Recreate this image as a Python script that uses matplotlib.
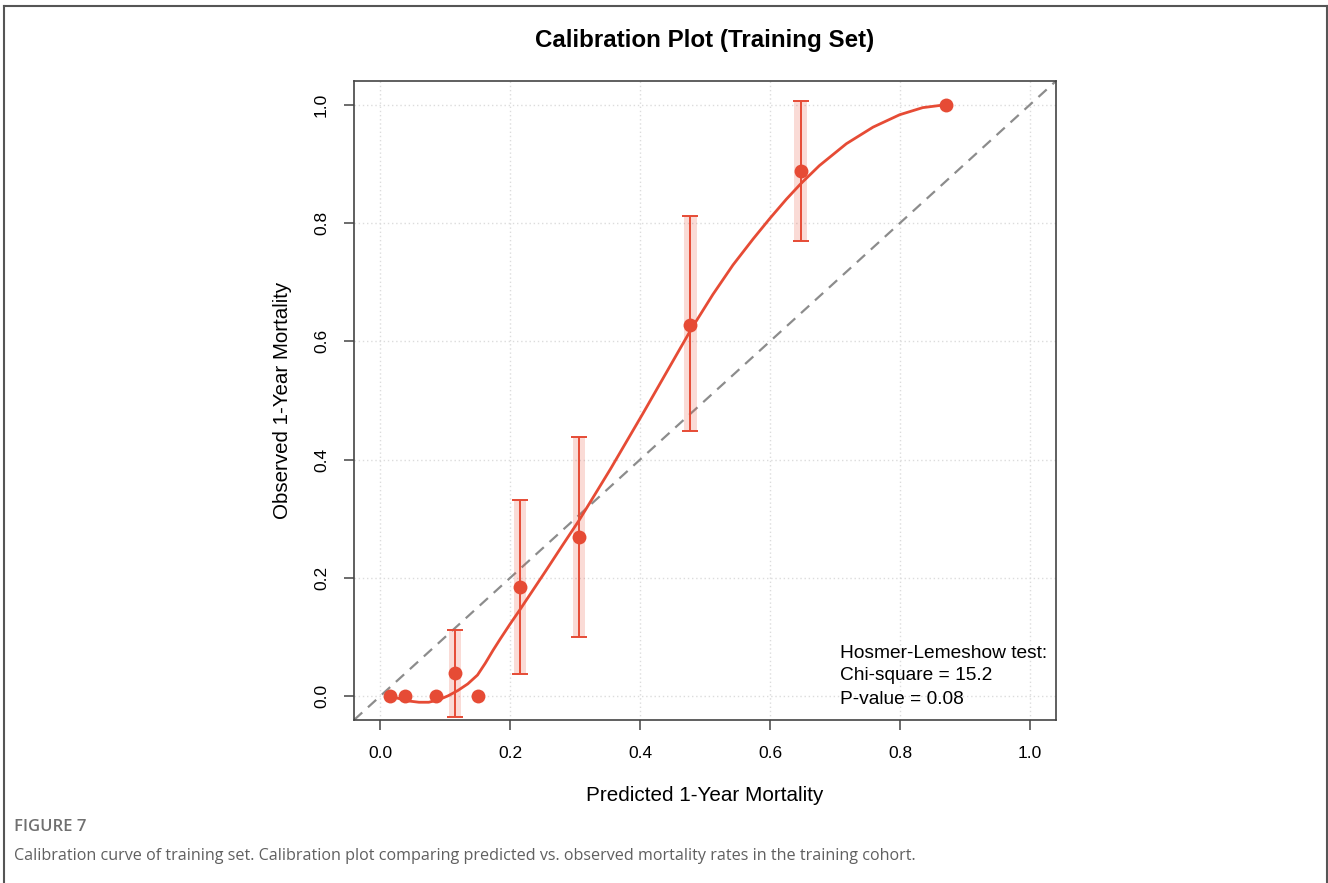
import matplotlib
matplotlib.use("Agg")
import matplotlib.pyplot as plt
from matplotlib.lines import Line2D
from matplotlib.patches import Rectangle

# Grouped calibration data (predicted risk, observed rate, 95% CI)
pred = [0.016, 0.038, 0.086, 0.115, 0.151, 0.215, 0.306, 0.4775, 0.647, 0.871]
obs = [0.0, 0.0, 0.0, 0.039, 0.0, 0.1855, 0.270, 0.628, 0.888, 1.0]
ci_low = [None, None, None, -0.035, None, 0.038, 0.0995, 0.448, 0.770, None]
ci_high = [None, None, None, 0.1125, None, 0.332, 0.438, 0.811, 1.006, None]

# Smoothed calibration curve
curve_x = [0.016, 0.030, 0.045, 0.060, 0.075, 0.090, 0.105, 0.120, 0.135, 0.150,
           0.162, 0.174, 0.185, 0.200, 0.215, 0.235, 0.255, 0.280, 0.306, 0.330,
           0.355, 0.380, 0.405, 0.430, 0.455, 0.479, 0.512, 0.543, 0.574, 0.600,
           0.625, 0.647, 0.676, 0.7175, 0.7585, 0.7995, 0.835, 0.871]
curve_y = [0.000, -0.004, -0.008, -0.010, -0.010, -0.006, 0.001, 0.010, 0.021, 0.036,
           0.056, 0.078, 0.097, 0.122, 0.146, 0.179, 0.212, 0.254, 0.297, 0.340,
           0.385, 0.432, 0.479, 0.527, 0.575, 0.621, 0.679, 0.729, 0.773, 0.808,
           0.840, 0.866, 0.897, 0.934, 0.962, 0.983, 0.995, 1.000]

ticks = [0.0, 0.2, 0.4, 0.6, 0.8, 1.0]
tick_labels = ["0.0", "0.2", "0.4", "0.6", "0.8", "1.0"]

hl_lines = ["Hosmer-Lemeshow test:", "Chi-square = 15.2", "P-value = 0.08"]

RED = "#E64B35"
SANS = ["Liberation Sans", "DejaVu Sans"]

W, H = 1328, 883
fig = plt.figure(figsize=(W / 100, H / 100), dpi=100)
fig.patch.set_facecolor("white")

fx = lambda p: p / W
fy = lambda p: 1 - p / H

# Outer figure frame (open at the bottom)
for xs, ys in [((4, 4), (6, 883)), ((4, 1327), (6, 6)), ((1327, 1327), (6, 883))]:
    fig.add_artist(Line2D([fx(v) for v in xs], [fy(v) for v in ys],
                          color="#555555", lw=1.5, transform=fig.transFigure))

ax = fig.add_axes([fx(354), fy(720), (1056 - 354) / W, (720 - 81) / H])
ax.set_xlim(-0.04, 1.04)
ax.set_ylim(-0.04, 1.04)

# Grid
for t in ticks:
    ax.axvline(t, color="#dcdcdc", lw=1.0, ls=(0, (1, 2)), zorder=0)
    ax.axhline(t, color="#dcdcdc", lw=1.0, ls=(0, (1, 2)), zorder=0)

# Reference line of perfect calibration
ax.plot([-0.04, 1.04], [-0.04, 1.04], color="#8c8c8c", lw=1.6,
        ls=(0, (5, 3.5)), zorder=1)

# Confidence intervals
band_w = 0.0095
for x, lo, hi in zip(pred, ci_low, ci_high):
    if lo is None:
        continue
    ax.add_patch(Rectangle((x - band_w, lo), 2 * band_w, hi - lo,
                           facecolor=RED, alpha=0.2, edgecolor="none", zorder=2))
    ax.errorbar([x], [(lo + hi) / 2], yerr=[[(hi - lo) / 2], [(hi - lo) / 2]],
                fmt="none", ecolor=RED, elinewidth=1.4, capsize=6, capthick=1.4,
                zorder=3)

# Smoothed curve and observed points
ax.plot(curve_x, curve_y, color=RED, lw=2.0, zorder=4,
        solid_capstyle="round", solid_joinstyle="round")
ax.plot(pred, obs, "o", color=RED, markersize=10, markeredgewidth=0, zorder=5)

# Axes styling
for s in ax.spines.values():
    s.set_color("#444444")
    s.set_linewidth(1.2)
ax.set_xticks(ticks)
ax.set_xticklabels(tick_labels, fontsize=12.5, family=SANS)
ax.set_yticks(ticks)
ax.set_yticklabels(tick_labels, fontsize=12.5, family=SANS, rotation=90, va="center")
ax.tick_params(axis="both", direction="out", length=7, width=1.1, color="#444444")
ax.tick_params(axis="x", pad=12)
ax.tick_params(axis="y", pad=11)

ax.set_xlabel("Predicted 1-Year Mortality", fontsize=14.9, family=SANS, labelpad=18)
ax.set_ylabel("Observed 1-Year Mortality", fontsize=14.8, family=SANS, labelpad=16)

fig.text(fx(705), fy(40), "Calibration Plot (Training Set)", ha="center", va="center",
         fontsize=17.4, fontweight="bold", family=SANS)

# Hosmer-Lemeshow annotation
for line, py in zip(hl_lines, [653, 676, 699]):
    fig.text(fx(840), fy(py), line, ha="left", va="center", fontsize=13.8,
             family=SANS, zorder=6)

# Caption
CAP = ["Open Sans", "DejaVu Sans"]
fig.text(fx(14), fy(827), "FIGURE 7", ha="left", va="center", fontsize=12,
         color="#707070", family=CAP, fontweight="semibold")
fig.text(fx(14), fy(856),
         "Calibration curve of training set. Calibration plot comparing predicted vs. "
         "observed mortality rates in the training cohort.",
         ha="left", va="center", fontsize=11.6, color="#606060", family=CAP)

fig.savefig("out.png", dpi=100, facecolor="white")
